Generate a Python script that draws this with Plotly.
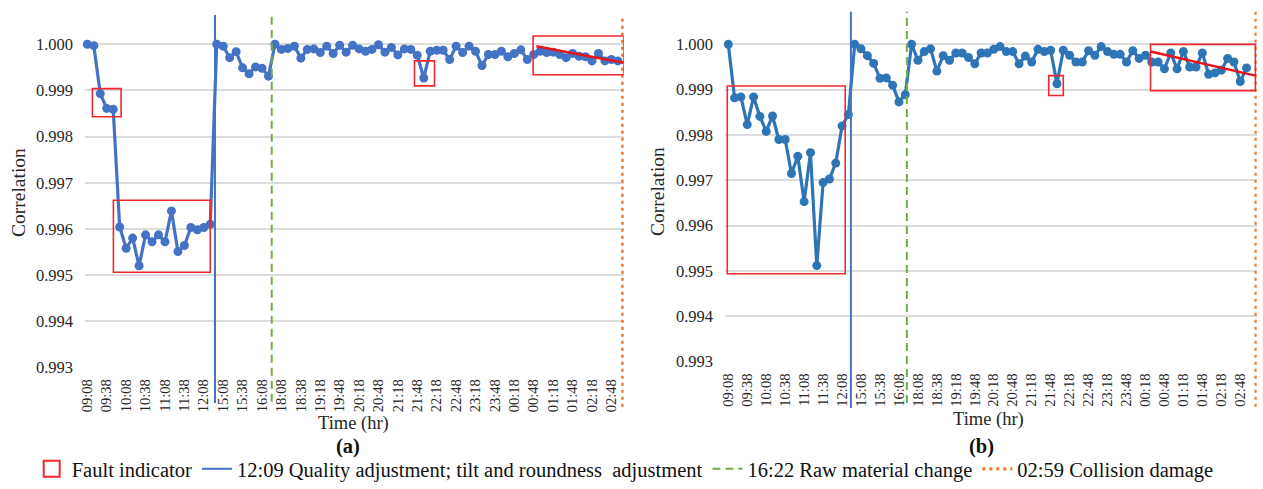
import plotly.graph_objects as go

# ---------------- data ----------------
times = ["09:08","09:18","09:28","09:38","09:48","09:58","10:08","10:18","10:28","10:38",
         "10:48","10:58","11:08","11:18","11:28","11:38","11:48","11:58","12:08","12:18",
         "14:58","15:08","15:18","15:28","15:38","15:48","15:58","16:08","16:18","17:58",
         "18:08","18:18","18:28","18:38","18:58","19:08","19:18","19:28","19:38","19:48",
         "19:58","20:08","20:18","20:28","20:38","20:48","20:58","21:08","21:18","21:28",
         "21:38","21:48","21:58","22:08","22:18","22:28","22:38","22:48","22:58","23:08",
         "23:18","23:28","23:38","23:48","23:58","00:08","00:18","00:28","00:38","00:48",
         "00:58","01:08","01:18","01:28","01:38","01:48","01:58","02:08","02:18","02:28",
         "02:38","02:48","02:58"]

tick_labels = ["09:08","09:38","10:08","10:38","11:08","11:38","12:08","15:08","15:38","16:08",
               "18:08","18:38","19:18","19:48","20:18","20:48","21:18","21:48","22:18","22:48",
               "23:18","23:48","00:18","00:48","01:18","01:48","02:18","02:48"]

corr_a = [1.00000,0.99997,0.99893,0.99861,0.99859,0.99604,0.99558,0.99580,0.99520,0.99587,
          0.99572,0.99587,0.99572,0.99639,0.99551,0.99564,0.99603,0.99598,0.99603,0.99610,
          1.00000,0.99996,0.99971,0.99984,0.99949,0.99936,0.99951,0.99948,0.99931,1.00000,
          0.99989,0.99991,0.99996,0.99970,0.99989,0.99990,0.99982,0.99996,0.99980,0.99998,
          0.99983,0.99998,0.99990,0.99985,0.99989,0.99999,0.99983,0.99993,0.99977,0.99990,
          0.99989,0.99976,0.99927,0.99985,0.99987,0.99987,0.99967,0.99996,0.99982,0.99996,
          0.99985,0.99954,0.99978,0.99978,0.99985,0.99973,0.99980,0.99988,0.99967,0.99978,
          0.99985,0.99982,0.99983,0.99978,0.99971,0.99980,0.99974,0.99973,0.99964,0.99980,
          0.99964,0.99967,0.99964]

corr_b = [1.00000,0.99882,0.99884,0.99823,0.99884,0.99841,0.99808,0.99842,0.99790,0.99790,
          0.99715,0.99753,0.99653,0.99761,0.99512,0.99695,0.99703,0.99738,0.99820,0.99845,
          1.00000,0.99990,0.99975,0.99958,0.99925,0.99926,0.99910,0.99873,0.99889,1.00000,
          0.99965,0.99984,0.99990,0.99941,0.99975,0.99965,0.99981,0.99981,0.99971,0.99957,
          0.99981,0.99981,0.99989,0.99995,0.99984,0.99984,0.99957,0.99974,0.99961,0.99989,
          0.99984,0.99987,0.99913,0.99987,0.99976,0.99961,0.99961,0.99986,0.99976,0.99995,
          0.99984,0.99978,0.99978,0.99961,0.99986,0.99969,0.99976,0.99961,0.99961,0.99946,
          0.99981,0.99946,0.99984,0.99950,0.99950,0.99981,0.99934,0.99937,0.99943,0.99969,
          0.99961,0.99918,0.99948]

y_ticks = [0.993, 0.994, 0.995, 0.996, 0.997, 0.998, 0.999, 1.000]

# event markers (category-axis position of each event time)
event_names = ["12:09 Quality adjustment; tilt and roundness  adjustment",
               "16:22 Raw material change",
               "02:59 Collision damage"]
events_a = [19.73, 28.5, 82.75]
events_b = [19.4, 28.25, 83.5]

# fault indicator boxes: (x0, x1, y0, y1) in category index / correlation
faults_a = [(0.78, 5.22, 0.99843, 0.99904),
            (4.03, 19.0, 0.99506, 0.99662),
            (50.56, 53.66, 0.99910, 0.99964),
            (68.9, 82.9, 0.99934, 1.00018)]
faults_b = [(-0.16, 18.5, 0.99494, 0.99908),
            (50.7, 53.0, 0.99887, 0.99931),
            (66.8, 83.4, 0.99898, 1.00000)]
trend_a = (69.4, 82.85, 0.99996, 0.99960)
trend_b = (66.8, 83.4, 0.99984, 0.99931)

# ---------------- styling ----------------
W, H = 1263, 489
FONT = "Liberation Serif, Times New Roman, serif"
TXT = "#262626"
BLUE_A = "#4472C4"
BLUE_B = "#2E75B6"
EV_STYLE = [dict(color="#4472C4", width=2, dash="solid"),
            dict(color="#70AD47", width=2, dash="8px,5px"),
            dict(color="#ED7D31", width=3.2, dash="3px,4px")]
RED = "#F0282D"

def px_x(p):
    return p / W

def px_y(p):
    return 1 - p / H

fig = go.Figure()

fig.add_trace(go.Scatter(x=times, y=corr_a, mode="lines+markers", xaxis="x", yaxis="y",
                         line=dict(color=BLUE_A, width=3.2), marker=dict(size=9, color=BLUE_A),
                         showlegend=False, cliponaxis=False))
fig.add_trace(go.Scatter(x=times, y=corr_b, mode="lines+markers", xaxis="x2", yaxis="y2",
                         line=dict(color=BLUE_B, width=3.2), marker=dict(size=9, color=BLUE_B),
                         showlegend=False, cliponaxis=False))

# legend entries
fig.add_trace(go.Scatter(x=[None], y=[None], mode="markers", name="Fault indicator",
                         marker=dict(symbol="square-open", size=16, color=RED,
                                     line=dict(width=2, color=RED))))
for nm, st in zip(event_names, EV_STYLE):
    fig.add_trace(go.Scatter(x=[None], y=[None], mode="lines", name=nm, line=st))

shapes = []
# event lines
ev_span_a = [(-0.1005, 0.9916), (-0.0968, 0.998), (-0.111, 0.9868)]
ev_span_b = [(-0.1326, 1.0026), (-0.1183, 1.0026), (-0.1289, 1.0026)]
for xr, yr, evs, spans in (("x", "y", events_a, ev_span_a), ("x2", "y2", events_b, ev_span_b)):
    for xv, st, (y0, y1) in zip(evs, EV_STYLE, spans):
        shapes.append(dict(type="line", xref=xr, yref=yr + " domain", x0=xv, x1=xv,
                           y0=y0, y1=y1, line=st, layer="above"))
# fault boxes
for xr, yr, boxes in (("x", "y", faults_a), ("x2", "y2", faults_b)):
    for (x0, x1, y0, y1) in boxes:
        shapes.append(dict(type="rect", xref=xr, yref=yr, x0=x0, x1=x1, y0=y0, y1=y1,
                           line=dict(color=RED, width=1.6), fillcolor="rgba(0,0,0,0)",
                           layer="above"))
for xr, yr, (x0, x1, y0, y1) in (("x", "y", trend_a), ("x2", "y2", trend_b)):
    shapes.append(dict(type="line", xref=xr, yref=yr, x0=x0, x1=x1, y0=y0, y1=y1,
                       line=dict(color="#E8141C", width=2.5), layer="above"))

xcommon = dict(type="category", categoryorder="array", categoryarray=times,
               tickmode="array", tickvals=tick_labels, ticktext=tick_labels,
               tickangle=-90, tickfont=dict(family=FONT, size=14.5, color=TXT),
               showgrid=False, zeroline=False, showline=False, ticks="",
               ticklabelstandoff=8, automargin=False)
ycommon = dict(range=[0.993, 1.0007], tickmode="array", tickvals=y_ticks, tickformat=".3f",
               tickfont=dict(family=FONT, size=16.5, color=TXT),
               showgrid=True, gridcolor="#DCDCDC", gridwidth=1.5,
               zeroline=False, showline=False, ticks="", ticklabelstandoff=11,
               automargin=False)

def ann(text, x, y, size, angle=0, color=TXT):
    return dict(text=text, xref="paper", yref="paper", x=px_x(x), y=px_y(y),
                xanchor="center", yanchor="middle", textangle=angle, showarrow=False,
                font=dict(family=FONT, size=size, color=color))

fig.update_layout(
    width=W, height=H, autosize=False,
    margin=dict(l=0, r=0, t=0, b=0),
    paper_bgcolor="white", plot_bgcolor="white",
    xaxis=dict(xcommon, domain=[px_x(85), px_x(623.7)], range=[-0.36, 82.9], anchor="y"),
    yaxis=dict(ycommon, domain=[px_y(367.3), px_y(12)], anchor="x"),
    xaxis2=dict(xcommon, domain=[px_x(725), px_x(1256.7)], range=[-0.52, 83.6], anchor="y2"),
    yaxis2=dict(ycommon, domain=[px_y(361.7), px_y(12.6)], anchor="x2"),
    shapes=shapes,
    showlegend=True,
    legend=dict(orientation="h", x=0.495, xanchor="center", y=0, yanchor="bottom",
                font=dict(family=FONT, size=20.5, color="#111111"), bgcolor="rgba(0,0,0,0)",
                itemwidth=30, traceorder="normal"),
    annotations=[
        ann("Correlation", 18, 193, 19.5, -90),
        ann("Correlation", 658, 192, 19.5, -90),
        ann("Time (hr)", 353, 423, 18.5),
        ann("Time (hr)", 988, 419, 18.5),
        ann("<b>(a)</b>", 348, 446, 20.5, color="#111111"),
        ann("<b>(b)</b>", 981, 446, 20.5, color="#111111"),
    ],
)

fig.write_html("out.html", post_script="document.body.style.margin='0';",
               config={"displayModeBar": False})
